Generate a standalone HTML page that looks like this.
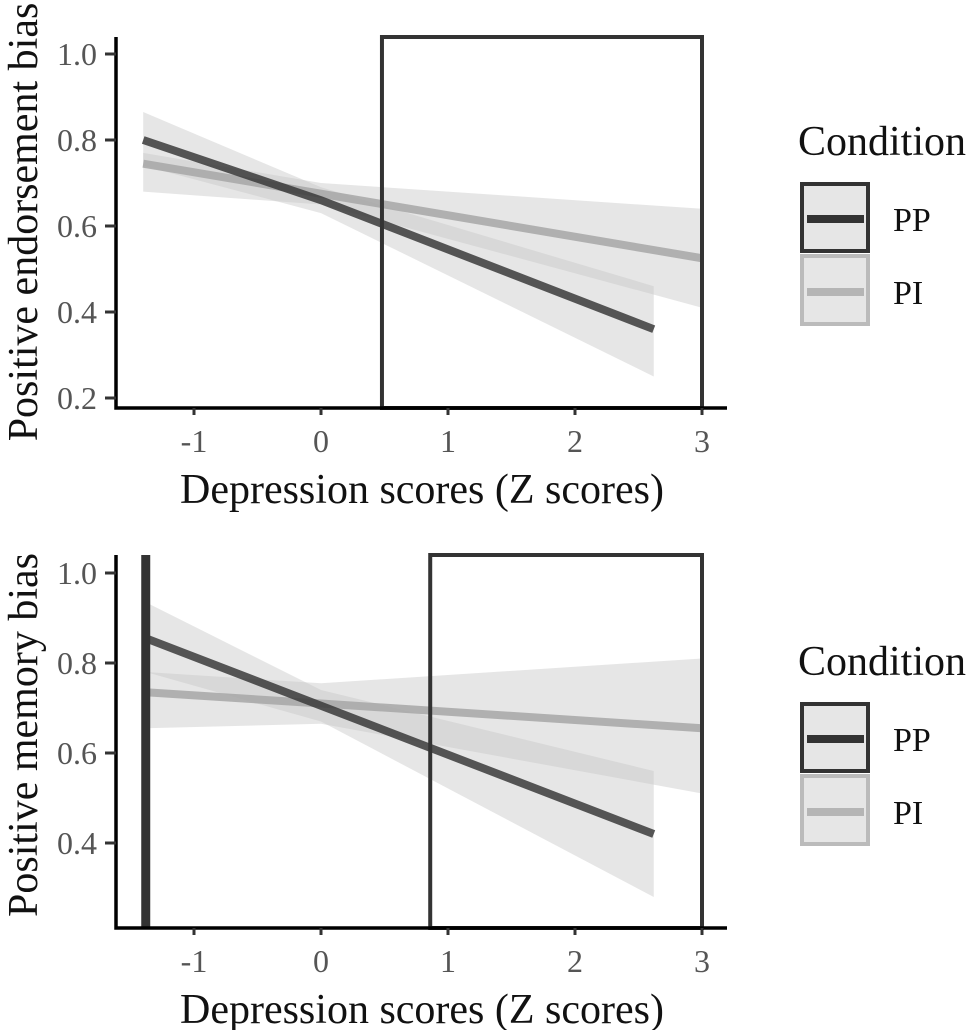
<!DOCTYPE html>
<html><head><meta charset="utf-8"><style>
html,body{margin:0;padding:0;background:#fff;}
svg{display:block;font-family:"Liberation Serif",serif;}
</style></head><body>
<svg id="c" width="970" height="1030" viewBox="0 0 970 1030"></svg>
<script>
const xTicks=[-1,0,1,2,3];
const topYTicks=[0.2,0.4,0.6,0.8,1.0];
const botYTicks=[0.4,0.6,0.8,1.0];
const topPPx=[-1.4,0,2.62], topPPy=[0.80,0.66,0.36], topPPlo=[0.74,0.63,0.25], topPPhi=[0.865,0.69,0.46];
const topPIx=[-1.4,0,3.0], topPIy=[0.745,0.675,0.525], topPIlo=[0.68,0.65,0.41], topPIhi=[0.77,0.70,0.64];
const botPPx=[-1.38,0,2.62], botPPy=[0.855,0.705,0.42], botPPlo=[0.78,0.67,0.28], botPPhi=[0.935,0.74,0.56];
const botPIx=[-1.38,0,3.0], botPIy=[0.735,0.71,0.655], botPIlo=[0.655,0.665,0.51], botPIhi=[0.78,0.755,0.81];
const topVlines=[0.48,3.0], botVlines=[0.86,3.0], botThick=[-1.38];
const NS="http://www.w3.org/2000/svg";
const svg=document.getElementById('c');
function el(t,a,p){const e=document.createElementNS(NS,t);for(const k in a)e.setAttribute(k,a[k]);(p||svg).appendChild(e);return e;}
function panel(o){
  const g=el('g',{});
  
  
  const X=v=>321+127*v;
  const Y=v=>o.y0+(v-o.v0)*(o.y1-o.y0)/(o.v1-o.v0);
  function band(xs,lo,hi,nm){
    const up=xs.map((x,i)=>`${X(x)},${Y(hi[i])}`);
    const dn=xs.map((x,i)=>`${X(x)},${Y(lo[i])}`).reverse();
    const p=el('polygon',{points:up.concat(dn).join(' '),fill:'#c8c8c8','fill-opacity':0.45},g);
    
    }
  band(o.PIx,o.PIlo,o.PIhi,'pi-ci-band');
  band(o.PPx,o.PPlo,o.PPhi,'pp-ci-band');
  let l=el('polyline',{points:o.PIx.map((x,i)=>`${X(x)},${Y(o.PIy[i])}`).join(' '),fill:'none',stroke:'#aaaaaa','stroke-width':8,'stroke-opacity':0.9},g);
  
  
  l=el('polyline',{points:o.PPx.map((x,i)=>`${X(x)},${Y(o.PPy[i])}`).join(' '),fill:'none',stroke:'#3a3a3a','stroke-width':8,'stroke-opacity':0.85},g);
  
  
  const r=el('rect',{x:X(o.vl[0]),y:o.top,width:X(o.vl[1])-X(o.vl[0]),height:o.axY-o.top,fill:'none',stroke:'#333','stroke-width':4},g);
  
  
  if(o.thick){for(const t of o.thick){const v=el('line',{x1:X(t),y1:o.top,x2:X(t),y2:o.axY,stroke:'#333','stroke-width':9},g);
    
    }}
  const ax=el('path',{d:`M116,${o.top} V${o.axY} H727`,fill:'none',stroke:'#000','stroke-width':3.5},g);
  
  
  for(const t of xTicks){el('line',{x1:X(t),y1:o.axY,x2:X(t),y2:o.axY+7,stroke:'#333','stroke-width':3},g);
    const tx=el('text',{x:X(t),y:o.axY+44,'text-anchor':'middle','font-size':32,fill:'#555'},g);tx.textContent=t;
    
    }
  for(const t of o.yt){el('line',{x1:105,y1:Y(t),x2:116,y2:Y(t),stroke:'#333','stroke-width':3},g);
    const tx=el('text',{x:97,y:Y(t)+11,'text-anchor':'end','font-size':32,fill:'#555'},g);tx.textContent=t.toFixed(1);
    
    }
  let t=el('text',{x:422,y:o.axY+95,'text-anchor':'middle','font-size':42,fill:'#111'},g);t.textContent='Depression scores (Z scores)';
  
  
  t=el('text',{x:0,y:0,'text-anchor':'middle','font-size':42,fill:'#111',transform:`translate(37,${o.ytitleY}) rotate(-90)`},g);t.textContent=o.ytitle;
  
  
  t=el('text',{x:798,y:o.legY,'font-size':42,fill:'#111'},g);t.textContent='Condition';
  
  
  const b1=o.legY+29;
  let r1=el('rect',{x:802,y:b1,width:66,height:67,fill:'#e6e6e6',stroke:'#333','stroke-width':4},g);
  
  
  el('line',{x1:807,y1:b1+35,x2:864,y2:b1+35,stroke:'#333','stroke-width':8},g);
  let r2=el('rect',{x:802,y:b1+72,width:66,height:68,fill:'#e6e6e6',stroke:'#bbb','stroke-width':4},g);
  
  
  el('line',{x1:807,y1:b1+108,x2:864,y2:b1+108,stroke:'#b5b5b5','stroke-width':8},g);
  t=el('text',{x:893,y:b1+47,'font-size':34,fill:'#111'},g);t.textContent='PP';
  
  
  t=el('text',{x:893,y:b1+120,'font-size':34,fill:'#111'},g);t.textContent='PI';
  
  
}
panel({name:'endorsement-panel',top:37,axY:408,v0:0.2,y0:398,v1:1.0,y1:54,yt:topYTicks,
  PPx:topPPx,PPy:topPPy,PPlo:topPPlo,PPhi:topPPhi,PIx:topPIx,PIy:topPIy,PIlo:topPIlo,PIhi:topPIhi,
  vl:topVlines,ytitle:'Positive endorsement bias',ytitleY:222,legY:155});
panel({name:'memory-panel',top:555,axY:928,v0:0.4,y0:843,v1:1.0,y1:573,yt:botYTicks,
  PPx:botPPx,PPy:botPPy,PPlo:botPPlo,PPhi:botPPhi,PIx:botPIx,PIy:botPIy,PIlo:botPIlo,PIhi:botPIhi,
  vl:botVlines,thick:botThick,ytitle:'Positive memory bias',ytitleY:735,legY:675});
</script>
</body></html>
